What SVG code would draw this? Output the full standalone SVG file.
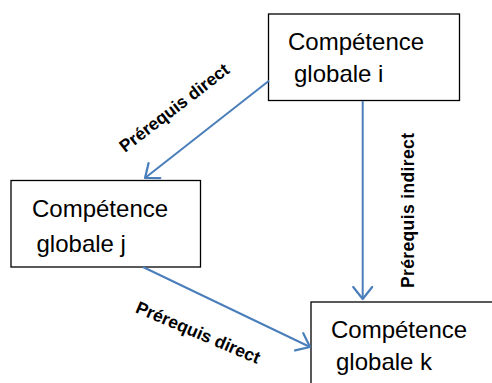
<svg xmlns="http://www.w3.org/2000/svg" width="492" height="383" viewBox="0 0 492 383">
<style>
.box{fill:#fff;stroke:#000;stroke-width:1.3}
.nt{font-family:"Liberation Sans",Arial,sans-serif;font-size:24px;fill:#000}
.lb{font-family:"Liberation Sans",Arial,sans-serif;font-size:17.5px;font-weight:bold;fill:#000}
.conn{stroke:#4a7ebb;stroke-width:2;fill:none}
</style>
<defs>
<marker id="arr" markerUnits="userSpaceOnUse" viewBox="-16 -12 18 24" refX="0" refY="0" markerWidth="18" markerHeight="24" orient="auto">
<path d="M-12,-9.5 L0,0 L-12,9.5" fill="none" stroke="#4a7ebb" stroke-width="2.2" stroke-linecap="round" stroke-linejoin="round"/>
</marker>
</defs>
<rect width="492" height="383" fill="#fff"/>
<g id="node-i">
<rect class="box" x="268.5" y="14" width="191" height="86.5"/>
<text class="nt" x="288" y="50">Compétence</text>
<text class="nt" x="294" y="81.7">globale i</text>
</g>
<g id="node-j">
<rect class="box" x="11" y="180.5" width="189.5" height="86.5"/>
<text class="nt" x="32" y="216.7">Compétence</text>
<text class="nt" x="36.5" y="251.7">globale j</text>
</g>
<g id="node-k">
<rect class="box" x="311" y="302" width="200" height="100"/>
<text class="nt" x="331" y="338.3">Compétence</text>
<text class="nt" x="336" y="370">globale k</text>
</g>
<g id="connectors">
<line class="conn" x1="269" y1="80.7" x2="145" y2="178" marker-end="url(#arr)"/>
<line class="conn" x1="362.7" y1="101" x2="362.7" y2="299" marker-end="url(#arr)"/>
<line class="conn" x1="143" y1="267" x2="310" y2="347" marker-end="url(#arr)"/>
<text class="lb" transform="translate(125,153) rotate(-37.5)">Prérequis direct</text>
<text class="lb" transform="translate(414,288) rotate(-90)" textLength="155">Prérequis indirect</text>
<text class="lb" transform="translate(134.5,312) rotate(23)">Prérequis direct</text>
</g>
</svg>
